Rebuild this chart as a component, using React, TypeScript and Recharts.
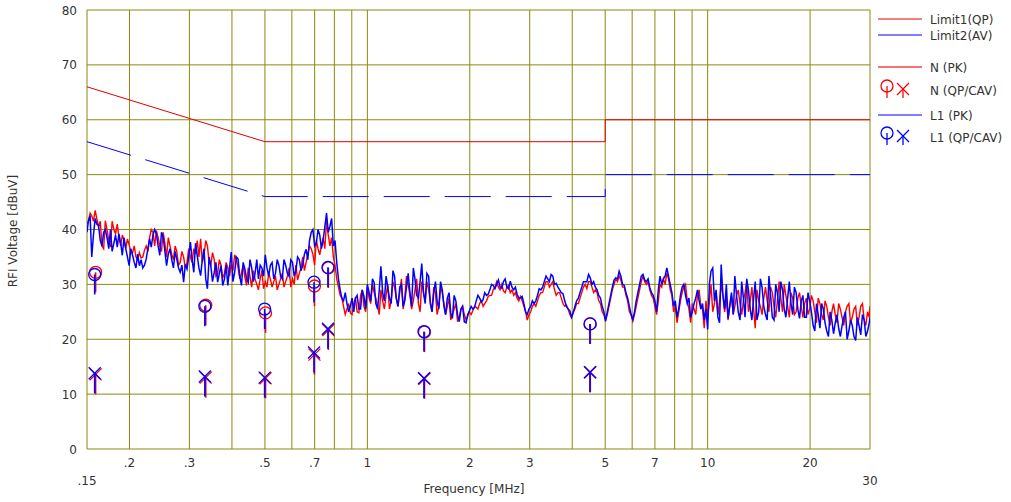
import React from 'react';
import { ComposedChart, Line, Scatter, XAxis, YAxis, CartesianGrid, Label } from 'recharts';

// ---------- data ----------
// Peak traces (coarse grid of frequencies)
const FREQ_MHZ = [
  0.15,
  0.1514, 0.1549, 0.1585, 0.1622, 0.1660, 0.1698, 0.1738, 0.1778, 0.1820, 0.1862,
  0.1905, 0.1950, 0.1995, 0.2042, 0.2089, 0.2138, 0.2188, 0.2239, 0.2291, 0.2344,
  0.2399, 0.2455, 0.2512, 0.2570, 0.2630, 0.2692, 0.2754, 0.2818, 0.2884, 0.2951,
  0.3020, 0.3090, 0.3162, 0.3236, 0.3311, 0.3388, 0.3467, 0.3548, 0.3631, 0.3715,
  0.3802, 0.3890, 0.3981, 0.4074, 0.4169, 0.4266, 0.4365, 0.4467, 0.4571, 0.4677,
  0.4786, 0.4898, 0.5012, 0.5129, 0.5248, 0.5370, 0.5495, 0.5623, 0.5754, 0.5888,
  0.6026, 0.6166, 0.6310, 0.6457, 0.6607, 0.6761, 0.6918, 0.7079, 0.7244, 0.7413,
  0.7586, 0.7762, 0.7943, 0.8128, 0.8318, 0.8511, 0.8710, 0.8913, 0.9120, 0.9333,
  0.9550, 0.9772, 1.000, 1.023, 1.047, 1.072, 1.096, 1.122, 1.148, 1.175,
  1.202, 1.230, 1.259, 1.288, 1.318, 1.349, 1.380, 1.413, 1.445, 1.479,
  1.514, 1.549, 1.585, 1.622, 1.660, 1.698, 1.738, 1.778, 1.820, 1.862,
  1.905, 1.950, 1.995, 2.042, 2.089, 2.138, 2.188, 2.239, 2.291, 2.344,
  2.399, 2.455, 2.512, 2.570, 2.630, 2.692, 2.754, 2.818, 2.884, 2.951,
  3.020, 3.090, 3.162, 3.236, 3.311, 3.388, 3.467, 3.548, 3.631, 3.715,
  3.802, 3.890, 3.981, 4.074, 4.169, 4.266, 4.365, 4.467, 4.571, 4.677,
  4.786, 4.898, 5.012, 5.129, 5.248, 5.370, 5.495, 5.623, 5.754, 5.888,
  6.026, 6.166, 6.310, 6.457, 6.607, 6.761, 6.918, 7.079, 7.244, 7.413,
  7.586, 7.762, 7.943, 8.128, 8.318, 8.511, 8.710, 8.913, 9.120, 9.333,
  9.550, 9.772, 10.00, 10.23, 10.47, 10.72, 10.96, 11.22, 11.48, 11.75,
  12.02, 12.30, 12.59, 12.88, 13.18, 13.49, 13.80, 14.13, 14.45, 14.79,
  15.14, 15.49, 15.85, 16.22, 16.60, 16.98, 17.38, 17.78, 18.20, 18.62,
  19.05, 19.50, 19.95, 20.42, 20.89, 21.38, 21.88, 22.39, 22.91, 23.44,
  23.99, 24.55, 25.12, 25.70, 26.30, 26.92, 27.54, 28.18, 28.84, 29.51,
  30.0,
];

const N_PK = [
  41,
  41.5, 42.5, 43.5, 40.5, 37, 41.6, 38, 41.5, 39.2, 38.5,
  39, 36.5, 37.2, 35.8, 35, 35.8, 35, 37, 38.5, 39.5,
  39.8, 37, 39.5, 35, 37, 34.5, 36, 34, 35, 34,
  35, 36.5, 38, 38.3, 35.3, 37, 33.5, 34.5, 32, 33.5,
  32, 33, 33.6, 35.4, 33, 32, 31.3, 33, 29.5, 31,
  29, 32.5, 30.5, 32, 29.5, 31.5, 30, 32, 30.5, 33,
  31, 33.5, 32, 35, 34, 37, 35.5, 38, 35.4, 38.5,
  41.5, 37, 35, 31, 28, 26, 25.5, 24.8, 26.5, 25,
  28, 26, 29.5, 26.5, 28.5, 26, 29, 25.5, 30, 27,
  29.5, 26, 31, 27.5, 30, 25.5, 29, 26.5, 30.5, 27,
  29, 25, 28.5, 26, 28.5, 24.5, 27.5, 24.5, 26.5, 24,
  26, 23.5, 25, 25.2, 25.8, 26.5, 26, 27, 28, 29,
  30.5, 29, 28.8, 29.5, 28.5, 28, 27.5, 27.8, 26, 23.5,
  25, 26.5, 27, 28.5, 29.5, 30.5, 30, 29, 28.5, 27.5,
  26, 25.5, 24, 25.5, 26.5, 28.5, 30, 30.5, 29.5, 29,
  27, 25, 23.5, 26, 29, 31, 31.5, 29.5, 28, 25,
  23.3, 26, 29, 31.5, 30, 29, 27.5, 24.5, 30, 31,
  32, 29, 25, 23, 27, 29.5, 27, 23, 25.5, 28,
  26, 22, 24, 30, 26.5, 24.5, 30, 25, 23.5, 28,
  26, 29, 24.5, 28.5, 25, 29.5, 22, 27, 24.5, 29.5,
  25, 28.5, 24, 30.5, 25, 28, 24, 27.5, 25, 28.5,
  24, 27.5, 25.5, 27, 23, 26.5, 23.5, 26, 22.5, 26.5,
  23, 25.5, 22.5, 26, 23, 25.5, 22.5, 26, 23.5, 25,
  26,
];

const L1_PK = [
  39.5,
  41.5, 35, 42, 40.7, 37, 40, 36.5, 36, 39, 39.2,
  35.3, 36.5, 33.4, 35.3, 33, 33.4, 33, 34.6, 38.3, 39,
  39.2, 35.3, 38.6, 33.4, 36.5, 33, 34.6, 32.2, 30.4, 32.8,
  37.7, 32.2, 35.3, 31.6, 36.5, 29.2, 33.4, 32.2, 30.4, 33.4,
  31, 29.8, 35.9, 32.2, 34.6, 29.8, 32.8, 30.4, 33, 32,
  31, 33, 35.4, 31.5, 34, 32, 33.5, 31, 33.5, 31.5,
  34, 32.5, 34.5, 33.5, 36.4, 38, 40, 37.5, 39, 38,
  43, 40.6, 37, 34, 29, 27, 26.5, 26, 25, 28,
  25.5, 27.8, 30, 27, 30.3, 25.5, 33.3, 27, 29.5, 26.5,
  31.5, 26, 30, 27, 32, 26, 31, 27.5, 33.8, 26.5,
  31.5, 25, 30.5, 25.5, 29, 24.5, 28.5, 23.8, 27, 23.2,
  26, 23, 25.2, 25.5, 27, 27.5, 27.2, 28, 29, 29.8,
  30, 29.5, 30.5, 29.5, 30.6, 29, 28.2, 27.5, 26.5, 24.5,
  26, 26.5, 28, 29, 30.5, 31, 31.8, 30, 29.5, 28.5,
  27, 25.5, 24, 26, 27.5, 29.5, 30.5, 31.8, 30, 29.5,
  28, 26, 23.3, 26.5, 29.5, 31.2, 32.4, 30, 28.5, 26,
  23.6, 27, 30, 31.8, 30.5, 29.4, 28, 25, 31.5, 31,
  33, 30, 26, 24, 28, 30, 26.5, 24, 26.5, 29,
  25.5, 23.5, 21.8, 32.4, 27, 24, 33.6, 25.5, 23.8, 28.5,
  31.5, 25, 30.5, 24, 29, 23.5, 30.5, 25, 29.5, 24.5,
  31.5, 24, 30, 25, 29, 24, 30.5, 24.5, 28.5, 23.8,
  28, 24, 27, 22.5, 26.5, 22, 25.5, 21.5, 25, 21,
  24.5, 20.5, 24, 20, 23.5, 20.5, 24, 20.8, 23.5, 21.5,
  24,
];

// Peak traces, in-between frequencies (the fine ripple of the scan)
const FREQ_MID_MHZ = [
  0.1532, 0.1567, 0.1603, 0.1641, 0.1679, 0.1718, 0.1758, 0.1799, 0.1841, 0.1884,
  0.1927, 0.1972, 0.2018, 0.2065, 0.2113, 0.2163, 0.2213, 0.2265, 0.2317, 0.2371,
  0.2427, 0.2483, 0.2541, 0.2600, 0.2661, 0.2723, 0.2786, 0.2851, 0.2917, 0.2985,
  0.3055, 0.3126, 0.3199, 0.3273, 0.3350, 0.3428, 0.3507, 0.3589, 0.3673, 0.3758,
  0.3846, 0.3935, 0.4027, 0.4121, 0.4217, 0.4315, 0.4416, 0.4519, 0.4624, 0.4732,
  0.4842, 0.4955, 0.5070, 0.5188, 0.5309, 0.5433, 0.5559, 0.5689, 0.5821, 0.5957,
  0.6096, 0.6237, 0.6383, 0.6532, 0.6683, 0.6839, 0.6998, 0.7161, 0.7328, 0.7499,
  0.7674, 0.7852, 0.8035, 0.8222, 0.8414, 0.8610, 0.8811, 0.9016, 0.9226, 0.9441,
  0.9661, 0.9886, 1.012, 1.035, 1.059, 1.084, 1.109, 1.135, 1.161, 1.189,
  1.216, 1.245, 1.274, 1.303, 1.334, 1.365, 1.396, 1.429, 1.462, 1.496,
  1.531, 1.567, 1.603, 1.641, 1.679, 1.718, 1.758, 1.799, 1.841, 1.884,
  1.927, 1.972, 2.018, 2.065, 2.113, 2.163, 2.213, 2.265, 2.317, 2.371,
  2.427, 2.483, 2.541, 2.600, 2.661, 2.723, 2.786, 2.851, 2.917, 2.985,
  3.055, 3.126, 3.199, 3.273, 3.350, 3.428, 3.507, 3.589, 3.673, 3.758,
  3.846, 3.935, 4.027, 4.121, 4.217, 4.315, 4.416, 4.519, 4.624, 4.732,
  4.842, 4.955, 5.070, 5.188, 5.309, 5.433, 5.559, 5.689, 5.821, 5.957,
  6.096, 6.237, 6.383, 6.532, 6.683, 6.839, 6.998, 7.161, 7.328, 7.499,
  7.674, 7.852, 8.035, 8.222, 8.414, 8.610, 8.811, 9.016, 9.226, 9.441,
  9.661, 9.886, 10.12, 10.35, 10.59, 10.84, 11.09, 11.35, 11.61, 11.89,
  12.16, 12.45, 12.74, 13.03, 13.34, 13.65, 13.96, 14.29, 14.62, 14.96,
  15.31, 15.67, 16.03, 16.41, 16.79, 17.18, 17.58, 17.99, 18.41, 18.84,
  19.27, 19.72, 20.18, 20.65, 21.13, 21.63, 22.13, 22.65, 23.17, 23.71,
  24.27, 24.83, 25.41, 26.00, 26.61, 27.23, 27.86, 28.51, 29.17, 29.85,
];

const N_PK_MID = [
  43, 41.5, 42, 41.5, 36.5, 40, 36.8, 40, 41, 37,
  38, 38.3, 36, 37, 34.5, 34.8, 36.2, 36, 40, 37,
  38.5, 36, 37.5, 38.5, 35.5, 37, 33.5, 36, 33, 36.5,
  34, 35.5, 35, 34, 38, 34, 35.8, 31.5, 34.5, 31.2,
  34, 31.5, 32.5, 34.5, 31, 33.5, 29.8, 31.5, 32.5, 30,
  31, 29.2, 29.5, 31, 30.5, 29, 31, 29.5, 31.5, 29.5,
  30, 30.8, 33, 32.5, 35.5, 36.5, 33.5, 36.5, 37, 36.5,
  39, 38.5, 33.5, 29.5, 27.5, 24.5, 26.5, 24.5, 27.5, 24.8,
  29, 25, 27.5, 30, 27.5, 24.5, 27, 28, 25.5, 30.5,
  27.5, 28.5, 25.5, 31.5, 28, 27, 31, 25, 28.5, 30.5,
  27, 29.5, 24.5, 29.5, 26.5, 26, 23.5, 25.5, 23.2, 25.5,
  24.5, 24.2, 24.5, 26, 25.5, 27, 26.5, 27.8, 28, 29.5,
  29.5, 30, 28.5, 29.8, 29, 28.5, 27, 27, 25, 24.5,
  26, 26, 28, 28.5, 30.5, 29.5, 30.5, 28, 28.5, 26.5,
  26.2, 24.5, 25, 26.5, 27.5, 29.5, 29.2, 30.5, 28.5, 28.5,
  26.5, 24.5, 24.5, 27.5, 30, 30.5, 30.8, 29.5, 27, 24.5,
  24.5, 27.5, 30.5, 30.5, 30.5, 28, 26, 27, 29.5, 30,
  31, 28, 26, 25, 28.5, 30, 25.5, 26.5, 24.5, 29,
  25.5, 27, 27, 25, 28.5, 27, 28, 27.5, 26, 24.5,
  28, 26.5, 27, 30.5, 27, 25.5, 29, 26, 27.5, 27,
  29.5, 26, 27, 27.5, 30, 26, 28.5, 24.5, 27.5, 26,
  26.5, 24.5, 28, 25, 27.5, 24.5, 27, 24, 25, 24.5,
  26.5, 24, 25, 26.5, 24, 26, 24, 26.5, 22.5, 24,
];

const L1_PK_MID = [
  42.5, 39, 41, 38, 39.5, 38.5, 40, 37.5, 36.8, 37.5,
  38.5, 35, 36.5, 34, 35.5, 34.5, 33.5, 36.5, 36.8, 40,
  37, 39.5, 36, 35.5, 34.5, 36, 33, 33.5, 33.6, 35,
  34.5, 37.5, 33, 34.5, 31, 35, 30.5, 34, 32, 29.8,
  33.5, 33, 30.5, 35, 31.5, 34, 31, 34.5, 30.5, 34.5,
  33.5, 31.5, 33, 33.5, 31, 34.5, 31.5, 34.5, 32, 34.5,
  31.5, 35, 32.5, 35.5, 34.5, 39.5, 37, 40, 36.5, 40.5,
  39.5, 42, 38, 31, 27.5, 28.5, 25, 27.5, 27.5, 25.5,
  29, 25.5, 28.5, 31, 26.5, 29, 28.5, 31.5, 27.5, 32.5,
  27.5, 29.5, 26, 29.5, 28.5, 33, 28, 30.5, 28.5, 32,
  26.5, 28.5, 27, 30.5, 26, 27.5, 24.8, 28, 24.5, 25.5,
  23.2, 24.5, 26, 25.8, 28, 26.8, 28.5, 28.2, 30, 29.2,
  30.8, 29.3, 31, 29.2, 29.5, 29.5, 27.5, 27.8, 25, 25.5,
  27, 27, 29.2, 29.5, 31.5, 30.5, 31.5, 30.2, 29, 28.3,
  26, 25.2, 24.8, 27, 28.5, 30.5, 30.5, 31.2, 30.5, 29,
  27.5, 25, 25, 28, 30.8, 31, 31.5, 29.8, 27.5, 24.5,
  25, 28.5, 31.5, 30.8, 31, 28.5, 27, 29, 30, 31.5,
  31.5, 28.5, 27, 25.5, 29.5, 28, 27.5, 25, 27.5, 27,
  26.5, 25.5, 30, 33, 29, 23, 28, 30, 26, 24.5,
  28, 23.5, 27.5, 31, 25.5, 27.5, 23.5, 31, 26, 23.5,
  28, 23.5, 28.5, 30.5, 25.5, 27.5, 26.5, 29.5, 25.5, 27,
  24, 28.5, 25, 21.5, 24.5, 26.5, 23, 20.5, 23.5, 23,
  22, 22.5, 25, 21.5, 22.5, 19.8, 22.5, 24.5, 20.5, 23,
];

// Limit lines
const LIMIT_FREQ = [0.15, 0.5, 5, 5, 30];
const LIMIT1_QP = [66, 56, 56, 60, 60];
const LIMIT2_AV = [56, 46, 46, 50, 50];

// Final measurement markers
const N_MARK_FREQ = [0.159, 0.335, 0.502, 0.699, 0.768, 1.472, 4.52];
const N_QP = [32.2, 26.2, 24.8, 29.7, 33.0, 21.3, 22.8];
const N_CAV = [13.6, 13.0, 12.9, 17.2, 21.7, 12.8, 14.0];
const L1_MARK_FREQ = [0.158, 0.333, 0.499, 0.697, 0.766, 1.467, 4.51];
const L1_QP = [31.8, 26.0, 25.5, 30.4, 33.1, 21.4, 22.8];
const L1_CAV = [13.8, 13.2, 13.0, 17.6, 21.9, 12.9, 14.0];

// Axes
const X_TICKS = [0.15, 0.2, 0.3, 0.4, 0.5, 0.6, 0.7, 0.8, 0.9, 1, 2, 3, 4, 5, 6, 7, 8, 9, 10, 20, 30];
const X_LABEL_VALUES = [0.15, 0.2, 0.3, 0.5, 0.7, 1, 2, 3, 5, 7, 10, 20, 30];
const X_LABEL_TEXT = ['.15', '.2', '.3', '.5', '.7', '1', '2', '3', '5', '7', '10', '20', '30'];
const X_LOW_LABELS = [0.15, 30];
const Y_TICKS = [0, 10, 20, 30, 40, 50, 60, 70, 80];

const LEGEND_ITEMS = ['Limit1(QP)', 'Limit2(AV)', 'N (PK)', 'N (QP/CAV)', 'L1 (PK)', 'L1 (QP/CAV)'];

// ---------- derived tables ----------
const trace = [
  ...FREQ_MHZ.map((f, i) => ({ f, n: N_PK[i], l1: L1_PK[i] })),
  ...FREQ_MID_MHZ.map((f, i) => ({ f, n: N_PK_MID[i], l1: L1_PK_MID[i] })),
].sort((a, b) => a.f - b.f);
const limit1 = LIMIT_FREQ.map((f, i) => ({ f, v: LIMIT1_QP[i] }));
const limit2 = LIMIT_FREQ.map((f, i) => ({ f, v: LIMIT2_AV[i] }));
const nQp = N_MARK_FREQ.map((f, i) => ({ f, v: N_QP[i] }));
const nCav = N_MARK_FREQ.map((f, i) => ({ f, v: N_CAV[i] }));
const l1Qp = L1_MARK_FREQ.map((f, i) => ({ f, v: L1_QP[i] }));
const l1Cav = L1_MARK_FREQ.map((f, i) => ({ f, v: L1_CAV[i] }));

// ---------- styling ----------
const W = 1011;
const H = 502;
const PLOT_LEFT = 87;
const PLOT_RIGHT = 870;
const PLOT_TOP = 10;
const PLOT_BOTTOM = 449;
const FONT = '"DejaVu Sans", Verdana, sans-serif';
const TEXT = '#333';
const GRID = '#8a8a10';
const RED = '#ff0000';
const BLUE = '#0000ff';
const LIMIT_RED = '#e00000';

const qpShape = (color: string) => (p: any) => {
  if (p.cx == null || p.cy == null) return <g />;
  return (
    <g>
      <circle cx={p.cx} cy={p.cy} r={6} fill="none" stroke={color} strokeWidth={1.3} />
      <line x1={p.cx} y1={p.cy} x2={p.cx} y2={p.cy + 20} stroke={color} strokeWidth={1.6} />
    </g>
  );
};

const cavShape = (color: string) => (p: any) => {
  if (p.cx == null || p.cy == null) return <g />;
  const s = 6;
  return (
    <g stroke={color} strokeWidth={1.3}>
      <line x1={p.cx - s} y1={p.cy - s} x2={p.cx + s} y2={p.cy + s} />
      <line x1={p.cx - s} y1={p.cy + s} x2={p.cx + s} y2={p.cy - s} />
      <line x1={p.cx} y1={p.cy} x2={p.cx} y2={p.cy + 20} strokeWidth={1.6} />
    </g>
  );
};

const XTick = (props: any) => {
  const { x, payload } = props;
  const i = X_LABEL_VALUES.indexOf(payload.value);
  if (i < 0) return <g />;
  const low = X_LOW_LABELS.includes(payload.value);
  return (
    <text x={x} y={PLOT_BOTTOM + (low ? 36 : 18)} textAnchor="middle" fontSize={12} fill={TEXT} fontFamily={FONT}>
      {X_LABEL_TEXT[i]}
    </text>
  );
};

const YTick = (props: any) => {
  const { y, payload } = props;
  return (
    <text x={PLOT_LEFT - 10} y={y + 4.5} textAnchor="end" fontSize={12} fill={TEXT} fontFamily={FONT}>
      {payload.value}
    </text>
  );
};

const LegendBox = () => {
  const lx1 = 8;
  const lx2 = 52;
  const tx = 60;
  const rows = [19, 35, 67, 90, 115, 137];
  const txt = (i: number) => (
    <text key={'t' + i} x={tx} y={rows[i] + 4.5} fontSize={12} fill={TEXT} fontFamily={FONT}>
      {LEGEND_ITEMS[i]}
    </text>
  );
  const icons = (y: number, color: string) => (
    <g>
      <circle cx={17} cy={y - 4} r={6} fill="none" stroke={color} strokeWidth={1.3} />
      <line x1={17} y1={y - 4} x2={17} y2={y + 8} stroke={color} strokeWidth={1.3} />
      <g stroke={color} strokeWidth={1.3}>
        <line x1={27} y1={y - 7} x2={39} y2={y + 5} />
        <line x1={27} y1={y + 5} x2={39} y2={y - 7} />
        <line x1={33} y1={y - 1} x2={33} y2={y + 8} />
      </g>
    </g>
  );
  return (
    <svg width={141} height={160} style={{ position: 'absolute', left: PLOT_RIGHT, top: 0 }}>
      <line x1={lx1} y1={rows[0]} x2={lx2} y2={rows[0]} stroke={LIMIT_RED} strokeWidth={1} />
      <line x1={lx1} y1={rows[1]} x2={lx2} y2={rows[1]} stroke={BLUE} strokeWidth={1} />
      <line x1={lx1} y1={rows[2]} x2={lx2} y2={rows[2]} stroke={RED} strokeWidth={1.4} strokeOpacity={0.75} />
      {icons(rows[3], RED)}
      <line x1={lx1} y1={rows[4]} x2={lx2} y2={rows[4]} stroke={BLUE} strokeWidth={1.2} />
      {icons(rows[5], BLUE)}
      {LEGEND_ITEMS.map((_, i) => txt(i))}
    </svg>
  );
};

export default function App() {
  return (
    <div style={{ position: 'absolute', left: 0, top: 0, width: W, height: H, background: '#fff' }}>
      <ComposedChart
        width={W}
        height={H}
        margin={{ top: PLOT_TOP, right: W - PLOT_RIGHT, bottom: 0, left: 0 }}
      >
        <CartesianGrid stroke={GRID} strokeWidth={1} />
        <XAxis
          type="number"
          dataKey="f"
          scale="log"
          domain={[0.15, 30]}
          allowDataOverflow
          ticks={X_TICKS}
          interval={0}
          tick={<XTick />}
          axisLine={false}
          tickLine={false}
          height={H - PLOT_BOTTOM}
        >
          <Label
            content={() => (
              <text x={474} y={493} textAnchor="middle" fontSize={12} fill={TEXT} fontFamily={FONT}>
                Frequency [MHz]
              </text>
            )}
          />
        </XAxis>
        <YAxis
          type="number"
          domain={[0, 80]}
          ticks={Y_TICKS}
          interval={0}
          tick={<YTick />}
          axisLine={false}
          tickLine={false}
          width={PLOT_LEFT}
        >
          <Label
            content={() => (
              <text
                x={17}
                y={231}
                transform="rotate(-90 17 231)"
                textAnchor="middle"
                fontSize={12}
                fill={TEXT}
                fontFamily={FONT}
              >
                RFI Voltage [dBuV]
              </text>
            )}
          />
        </YAxis>
        <Line data={limit1} dataKey="v" stroke={LIMIT_RED} strokeWidth={1} dot={false} activeDot={false} isAnimationActive={false} type="linear" />
        <Line data={limit2} dataKey="v" stroke={BLUE} strokeWidth={1} strokeDasharray="46 15" dot={false} activeDot={false} isAnimationActive={false} type="linear" />
        <Line data={trace} dataKey="n" stroke={RED} strokeWidth={1.4} dot={false} activeDot={false} isAnimationActive={false} type="linear" />
        <Line data={trace} dataKey="l1" stroke={BLUE} strokeWidth={1.5} dot={false} activeDot={false} isAnimationActive={false} type="linear" />
        <Scatter data={nQp} dataKey="v" shape={qpShape(RED)} isAnimationActive={false} />
        <Scatter data={nCav} dataKey="v" shape={cavShape(RED)} isAnimationActive={false} />
        <Scatter data={l1Qp} dataKey="v" shape={qpShape(BLUE)} isAnimationActive={false} />
        <Scatter data={l1Cav} dataKey="v" shape={cavShape(BLUE)} isAnimationActive={false} />
      </ComposedChart>
      <LegendBox />
    </div>
  );
}
